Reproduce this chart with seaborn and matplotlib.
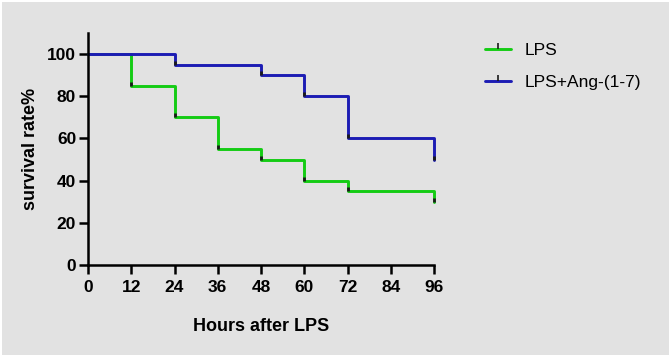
import numpy as np
import pandas as pd
import matplotlib
matplotlib.use("Agg")
import matplotlib.pyplot as plt
from matplotlib.lines import Line2D
from matplotlib.patches import Rectangle
import seaborn as sns

# Survival data (Kaplan-Meier style steps)
hours_lps = [0, 12, 24, 36, 48, 60, 72, 96, 96]
surv_lps = [100, 85, 70, 55, 50, 40, 35, 35, 30]
hours_ang = [0, 24, 48, 60, 72, 96, 96]
surv_ang = [100, 95, 90, 80, 60, 60, 50]
groups = ["LPS", "LPS+Ang-(1-7)"]
colors = {"LPS": "#14cc14", "LPS+Ang-(1-7)": "#1c1cb4"}
x_ticks = [0, 12, 24, 36, 48, 60, 72, 84, 96]
y_ticks = [0, 20, 40, 60, 80, 100]

df = pd.concat([
    pd.DataFrame({"hours": hours_lps, "survival": surv_lps, "group": groups[0]}),
    pd.DataFrame({"hours": hours_ang, "survival": surv_ang, "group": groups[1]}),
], ignore_index=True)

sns.set_theme(style="ticks")
plt.rcParams['font.family'] = ['Liberation Sans', 'DejaVu Sans']
plt.rcParams['text.color'] = 'black'
plt.rcParams['xtick.color'] = 'black'
plt.rcParams['ytick.color'] = 'black'
plt.rcParams['axes.labelcolor'] = 'black'

fig = plt.figure(figsize=(6.71, 3.57), dpi=100, facecolor="white")
fig.patches.append(Rectangle((2 / 671, 2 / 357), 1 - 4 / 671, 1 - 4 / 357,
                             transform=fig.transFigure, facecolor="#e2e2e2",
                             edgecolor="none", zorder=-10))
ax = fig.add_axes([88 / 671, 1 - 265 / 357, (434 - 88) / 671, (265 - 33) / 357])
ax.set_facecolor("none")

sns.lineplot(data=df, x="hours", y="survival", hue="group", palette=colors,
             drawstyle="steps-post", sort=False, estimator=None,
             linewidth=2.1, legend=False, ax=ax)
for ln in ax.get_lines():
    ln.set_clip_on(False)

# small dark marks at the bottom of each drop
for g, hx, sy in [(groups[0], hours_lps, surv_lps), (groups[1], hours_ang, surv_ang)]:
    ax.plot(hx[1:-2] + [hx[-1]], sy[1:-2] + [sy[-1]], linestyle="none",
            marker=2, markersize=3, markeredgewidth=2.0, color="#1a1a1a",
            zorder=3, clip_on=False)

ax.set_xlim(0, 96)
ax.set_ylim(0, 110)
ax.set_xticks(x_ticks)
ax.set_yticks(y_ticks)
ax.tick_params(axis="both", length=6.5, width=1.8, color="black", labelsize=12.5)
ax.tick_params(axis="y", pad=2)
ax.tick_params(axis="x", pad=4)
for lbl in ax.get_xticklabels() + ax.get_yticklabels():
    lbl.set_fontweight("bold")
for side in ["left", "bottom"]:
    ax.spines[side].set_linewidth(1.8)
    ax.spines[side].set_color("black")
sns.despine(ax=ax)

ax.set_xlabel("Hours after LPS", fontsize=13, fontweight="bold", labelpad=17)
ax.set_ylabel("survival rate%", fontsize=13, fontweight="bold", labelpad=6)

handles = [Line2D([0], [0], color=colors[g], linewidth=2.1, marker=2, markersize=4,
                  markeredgecolor="#1a1a1a", markeredgewidth=1.2) for g in groups]
fig.legend(handles, groups, loc="upper left", bbox_to_anchor=(478 / 671, 1 - 36 / 357),
           frameon=False, fontsize=12.5, handlelength=1.5, handletextpad=0.8,
           labelspacing=0.95, borderaxespad=0)

fig.savefig("out.png", dpi=100, facecolor="white")
